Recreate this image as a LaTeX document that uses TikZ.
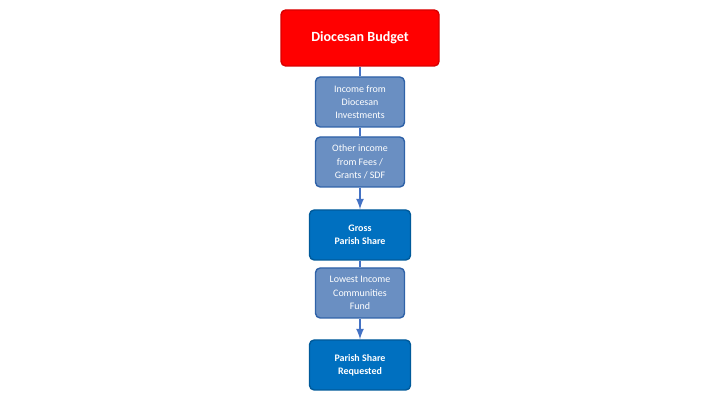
\documentclass[tikz,border=0pt]{standalone}
\usepackage{fontspec}
\setmainfont{Carlito}
\usetikzlibrary{positioning}
\definecolor{linkblue}{HTML}{4472C4}
\definecolor{stepfill}{HTML}{6A8FC2}
\definecolor{stepedge}{HTML}{2F62A8}
\definecolor{sharefill}{HTML}{0070C0}
\begin{document}
\begin{tikzpicture}[x=0.03cm,y=-0.03cm,
    link/.style={draw=linkblue,line width=2pt},
    arrow/.style={link,-latex}]
    \tikzstyle{box}=[rounded corners=4pt,align=center,text=white,inner sep=0pt]
    \tikzstyle{budget}=[box,fill=red,draw=red!85!black,line width=1.2pt,minimum width=158*0.03cm,minimum height=56*0.03cm,font=\bfseries\fontsize{12}{14}\selectfont]
    \tikzstyle{income}=[box,fill=stepfill,draw=stepedge,line width=1.2pt,minimum width=89*0.03cm,minimum height=50*0.03cm,font=\fontsize{8.5}{11.4}\selectfont]
    \tikzstyle{share}=[box,fill=sharefill,draw=sharefill!80!black,line width=1.2pt,minimum width=101*0.03cm,minimum height=50*0.03cm,font=\bfseries\fontsize{8.5}{11.4}\selectfont]

\useasboundingbox (0,0) rectangle (720,405);
\node[budget] (dio) at (360,38) {Diocesan Budget};
\node[income] (inv) at (360,102) {Income from\\Diocesan\\Investments};
\node[income] (fees) at (360,162) {Other income\\from Fees /\\Grants / SDF};
\node[share] (gross) at (360,235) {Gross\\Parish Share};
\node[income] (lic) at (360,293) {Lowest Income\\Communities\\Fund};
\node[share] (req) at (360,365) {Parish Share\\Requested};
\draw[link] (dio) -- (inv);
\draw[link] (inv) -- (fees);
\draw[arrow] (fees) -- (gross);
\draw[link] (gross) -- (lic);
\draw[arrow] (lic) -- (req);
\end{tikzpicture}
\end{document}
